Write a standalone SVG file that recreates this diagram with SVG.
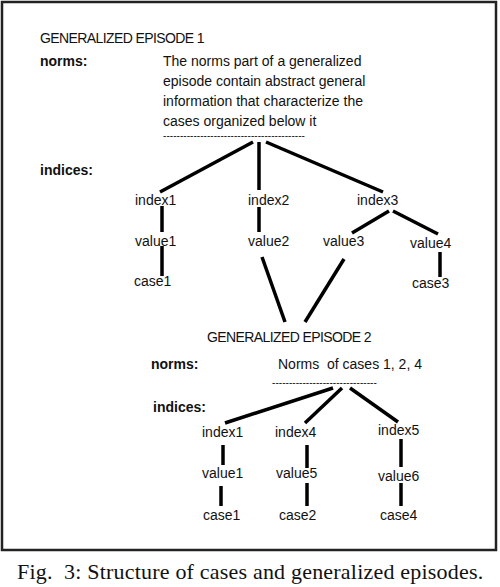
<svg xmlns="http://www.w3.org/2000/svg" width="500" height="587" viewBox="0 0 500 587">
<style>
text{font-family:"Liberation Sans",Arial,sans-serif;font-size:14px;fill:#111}
.b{font-weight:bold}
.t{letter-spacing:-0.6px}
.d{font-size:10px;letter-spacing:0.05px}
.cap{font-family:"Liberation Serif","Times New Roman",serif;font-size:22px;letter-spacing:0.2px}
.c line{stroke:#000;stroke-width:3.5;stroke-linecap:butt}
</style>
<rect x="2" y="2" width="494" height="548" fill="#fff" stroke="#222" stroke-width="2.5"/>
<g id="ge1">
<text class="t" x="40" y="43">GENERALIZED EPISODE 1</text>
<text class="b" x="40" y="66">norms:</text>
<text x="163" y="66">The norms part of a generalized</text>
<text x="163" y="86">episode contain abstract general</text>
<text x="163" y="106">information that characterize the</text>
<text x="163" y="126">cases organized below it</text>
<text class="d" x="163" y="139">------------------------------------------</text>
<text class="b" x="40" y="175">indices:</text>
</g>
<g id="g1-index1"><text x="135" y="205">index1</text></g>
<g id="g1-index2"><text x="248" y="205">index2</text></g>
<g id="g1-index3"><text x="357" y="205">index3</text></g>
<g id="g1-value1"><text x="135" y="246">value1</text></g>
<g id="g1-value2"><text x="248" y="246">value2</text></g>
<g id="g1-value3"><text x="323" y="246">value3</text></g>
<g id="g1-value4"><text x="410" y="248">value4</text></g>
<g id="g1-case1"><text x="134" y="286">case1</text></g>
<g id="g1-case3"><text x="412" y="288">case3</text></g>
<g id="ge2">
<text class="t" x="207" y="342">GENERALIZED EPISODE 2</text>
<text class="b" x="151" y="369">norms:</text>
<text x="278" y="369" xml:space="preserve">Norms  of cases 1, 2, 4</text>
<text class="d" x="272" y="386">-------------------------------</text>
<text class="b" x="153" y="412">indices:</text>
</g>
<g id="g2-index1"><text x="202" y="437">index1</text></g>
<g id="g2-index4"><text x="275" y="437">index4</text></g>
<g id="g2-index5"><text x="378" y="435">index5</text></g>
<g id="g2-value1"><text x="202" y="478">value1</text></g>
<g id="g2-value5"><text x="276" y="478">value5</text></g>
<g id="g2-value6"><text x="378" y="481">value6</text></g>
<g id="g2-case1"><text x="203" y="520">case1</text></g>
<g id="g2-case2"><text x="279" y="520">case2</text></g>
<g id="g2-case4"><text x="380" y="520">case4</text></g>
<g class="c" id="connectors">
<line x1="253" y1="142" x2="160" y2="192"/>
<line x1="259" y1="142" x2="259" y2="190"/>
<line x1="266" y1="142" x2="383" y2="192"/>
<line x1="162" y1="206" x2="162" y2="232"/>
<line x1="162" y1="246" x2="162" y2="276"/>
<line x1="259" y1="207" x2="259" y2="232"/>
<line x1="389" y1="211" x2="352" y2="233"/>
<line x1="393" y1="211" x2="438" y2="234"/>
<line x1="440" y1="252" x2="440" y2="277"/>
<line x1="262" y1="257" x2="285" y2="322"/>
<line x1="344" y1="259" x2="305" y2="322"/>
<line x1="333" y1="388" x2="225" y2="423"/>
<line x1="342" y1="388" x2="305" y2="423"/>
<line x1="350" y1="388" x2="398" y2="422"/>
<line x1="223" y1="445" x2="223" y2="465"/>
<line x1="221" y1="486" x2="221" y2="506"/>
<line x1="307" y1="445" x2="307" y2="468"/>
<line x1="307" y1="483" x2="307" y2="506"/>
<line x1="401" y1="439" x2="401" y2="467"/>
<line x1="401" y1="483" x2="401" y2="506"/>
</g>
<text class="cap" x="17" y="579" xml:space="preserve">Fig.  3: Structure of cases and generalized episodes.</text>
</svg>
